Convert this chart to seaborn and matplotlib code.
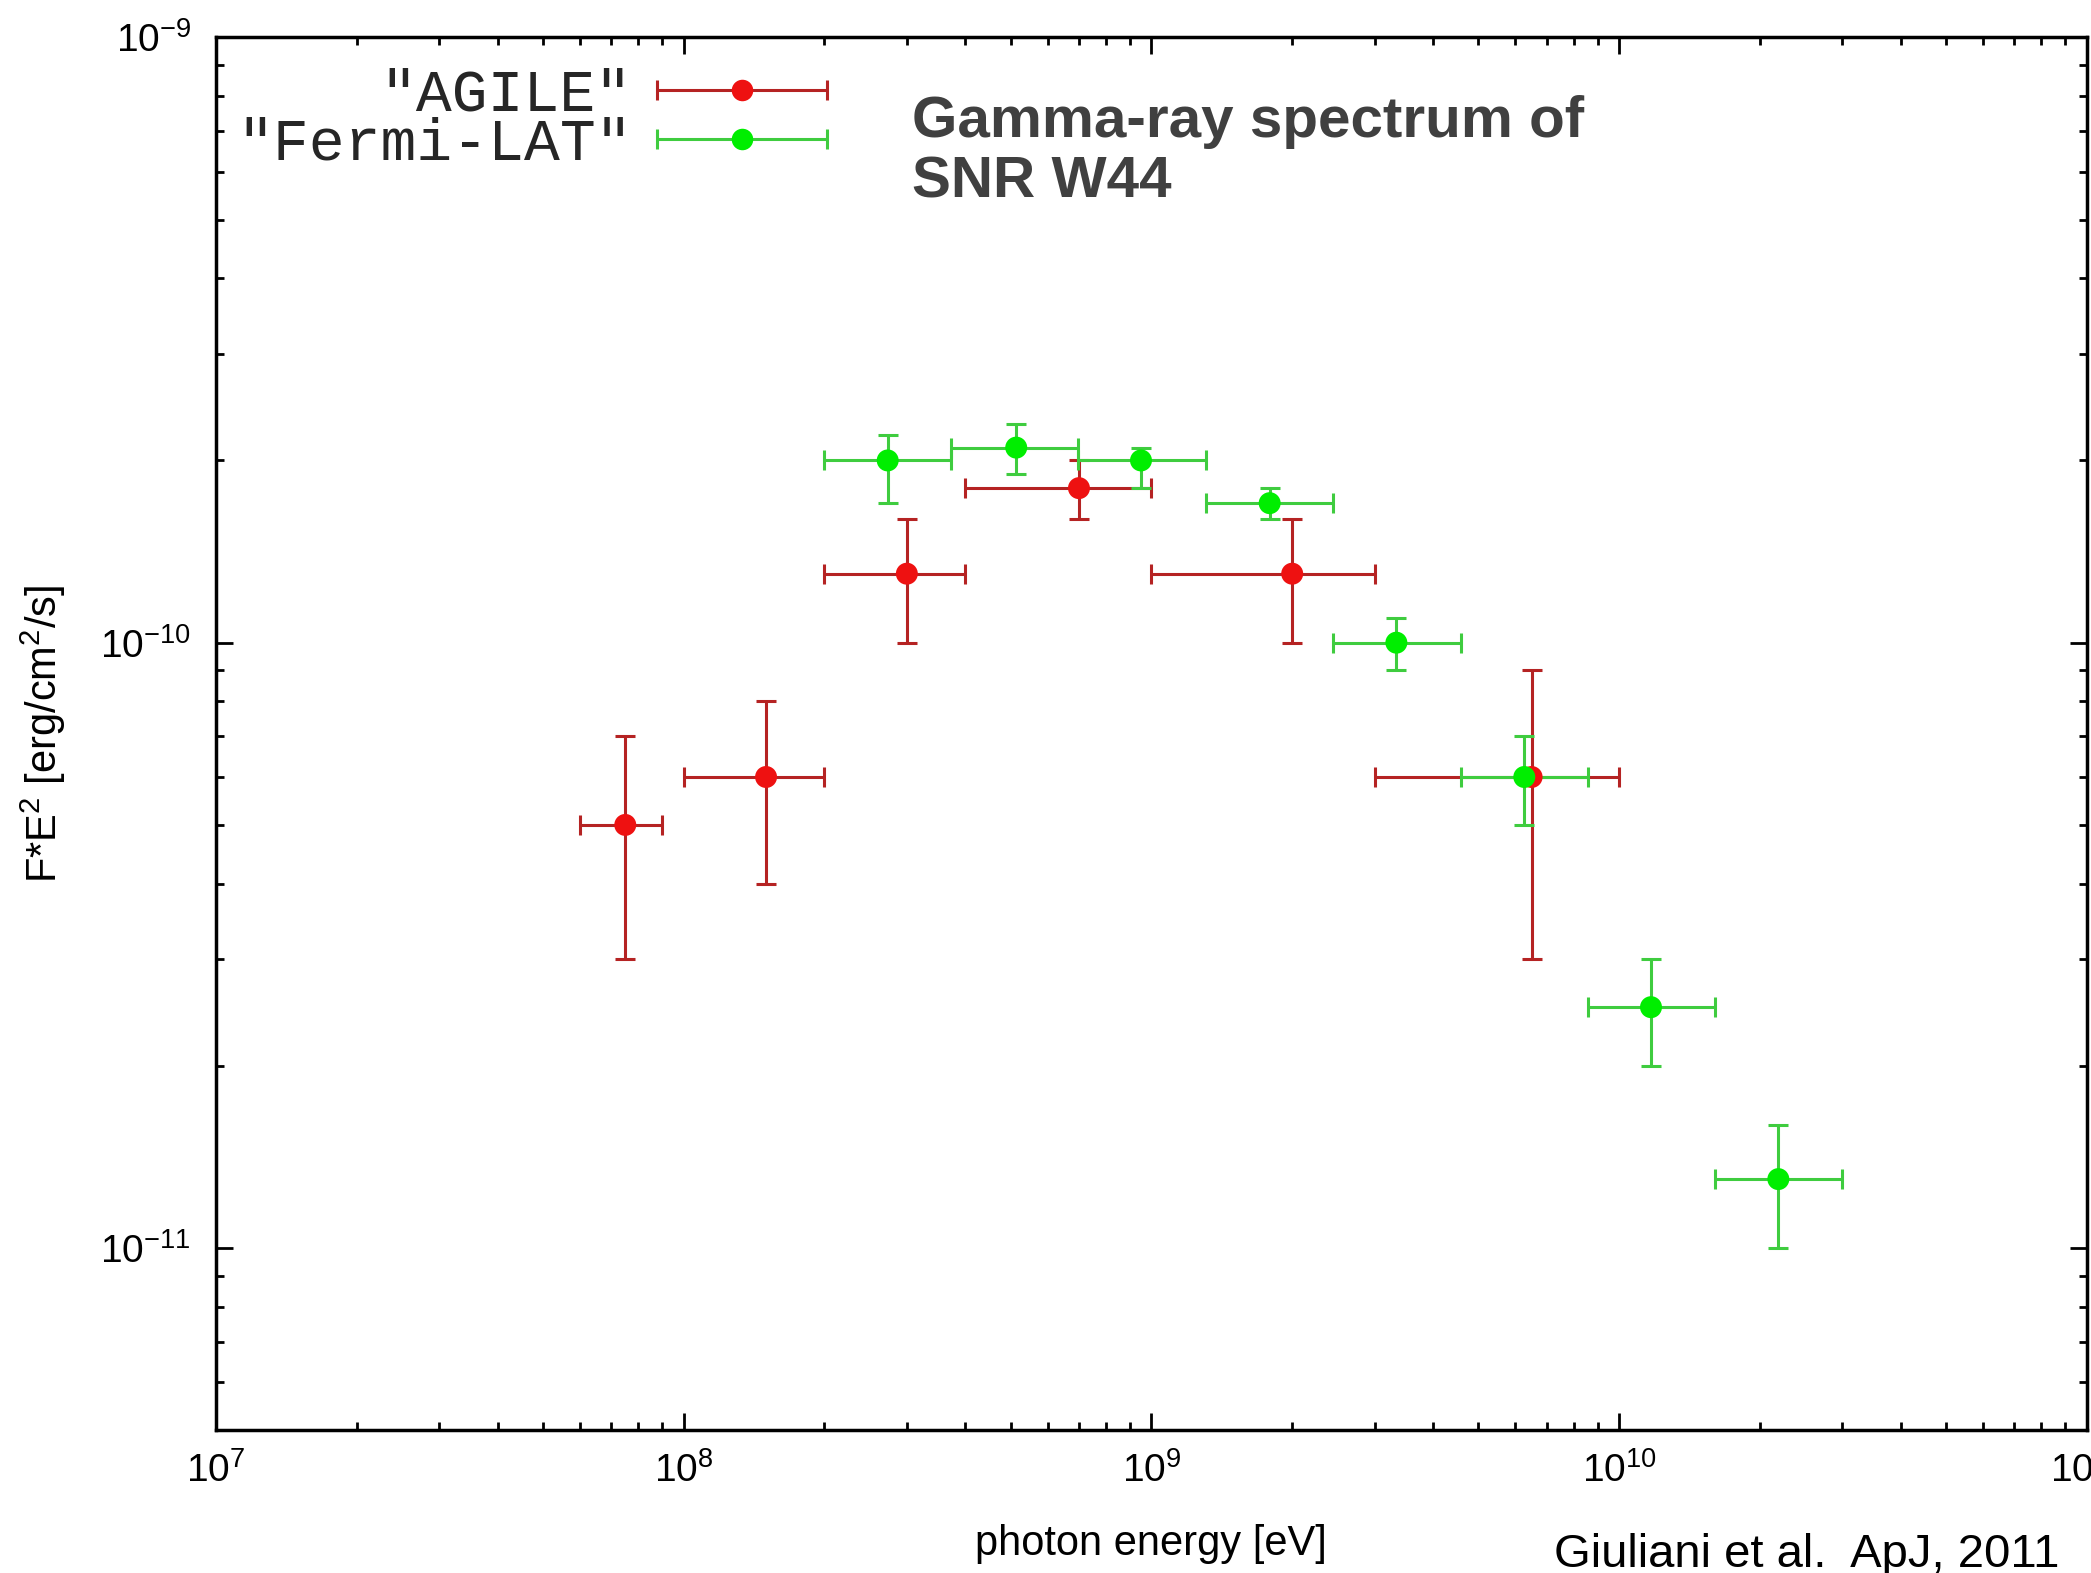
import matplotlib
matplotlib.use("Agg")
import matplotlib.pyplot as plt
import seaborn as sns
import numpy as np
import pandas as pd
from matplotlib.lines import Line2D
from matplotlib.collections import LineCollection
from matplotlib.container import ErrorbarContainer
from matplotlib.legend_handler import HandlerErrorbar
from matplotlib.ticker import LogLocator, NullFormatter

# AGILE points (energy in eV, E^2 F in erg/cm2/s)
agile_e = [7.5e7, 1.5e8, 3.0e8, 7.0e8, 2.0e9, 6.5e9]
agile_e_lo = [6.0e7, 1.0e8, 2.0e8, 4.0e8, 1.0e9, 3.0e9]
agile_e_hi = [9.0e7, 2.0e8, 4.0e8, 1.0e9, 3.0e9, 1.0e10]
agile_f = [5.0e-11, 6.0e-11, 1.3e-10, 1.8e-10, 1.3e-10, 6.0e-11]
agile_f_lo = [3.0e-11, 4.0e-11, 1.0e-10, 1.6e-10, 1.0e-10, 3.0e-11]
agile_f_hi = [7.0e-11, 8.0e-11, 1.6e-10, 2.0e-10, 1.6e-10, 9.0e-11]

# Fermi-LAT points
fermi_e = [2.73e8, 5.14e8, 9.5e8, 1.79e9, 3.34e9, 6.27e9, 1.17e10, 2.19e10]
fermi_e_lo = [2.0e8, 3.72e8, 6.95e8, 1.31e9, 2.45e9, 4.6e9, 8.6e9, 1.6e10]
fermi_e_hi = [3.72e8, 6.95e8, 1.31e9, 2.45e9, 4.6e9, 8.6e9, 1.6e10, 3.0e10]
fermi_f = [2.0e-10, 2.1e-10, 2.0e-10, 1.7e-10, 1.0e-10, 6.0e-11, 2.5e-11, 1.3e-11]
fermi_f_lo = [1.7e-10, 1.9e-10, 1.8e-10, 1.6e-10, 9.0e-11, 5.0e-11, 2.0e-11, 1.0e-11]
fermi_f_hi = [2.2e-10, 2.3e-10, 2.1e-10, 1.8e-10, 1.1e-10, 7.0e-11, 3.0e-11, 1.6e-11]

series_names = ['"AGILE"', '"Fermi-LAT"']
line_colors = ['#b52323', '#3fcc3f']
marker_colors = ['#ee1111', '#00ee00']

sns.set_theme(style="ticks")
plt.rcParams['font.family'] = ['Liberation Sans', 'DejaVu Sans']
plt.rcParams['mathtext.fontset'] = 'custom'
plt.rcParams['mathtext.rm'] = 'Liberation Sans'
plt.rcParams['mathtext.it'] = 'Liberation Sans:italic'
plt.rcParams['mathtext.bf'] = 'Liberation Sans:bold'
plt.rcParams['mathtext.default'] = 'regular'
plt.rcParams['axes.unicode_minus'] = False

fig = plt.figure(figsize=(20.91, 15.73), dpi=100)
ax = fig.add_axes([0.1033, 0.0907, 0.8947, 0.8856])

datasets = [
    (agile_e, agile_e_lo, agile_e_hi, agile_f, agile_f_lo, agile_f_hi),
    (fermi_e, fermi_e_lo, fermi_e_hi, fermi_f, fermi_f_lo, fermi_f_hi),
]

frames = []
for name, lc, (e, elo, ehi, f, flo, fhi) in zip(series_names, line_colors, datasets):
    e, elo, ehi = np.array(e), np.array(elo), np.array(ehi)
    f, flo, fhi = np.array(f), np.array(flo), np.array(fhi)
    ax.errorbar(e, f, xerr=[e - elo, ehi - e], yerr=[f - flo, fhi - f],
                fmt='none', ecolor=lc, elinewidth=2.2, capsize=7, capthick=2.2, zorder=2)
    frames.append(pd.DataFrame({'energy': e, 'flux': f, 'instrument': name}))

df = pd.concat(frames, ignore_index=True)
sns.scatterplot(data=df, x='energy', y='flux', hue='instrument',
                palette=dict(zip(series_names, marker_colors)),
                s=250, linewidth=0, legend=False, zorder=5, ax=ax)

ax.set_xscale('log')
ax.set_yscale('log')
ax.set_xlim(1e7, 1e11)
ax.set_ylim(5e-12, 1e-9)

for axis in (ax.xaxis, ax.yaxis):
    axis.set_major_locator(LogLocator(base=10, numticks=20))
    axis.set_minor_locator(LogLocator(base=10, subs=np.arange(2, 10), numticks=20))
    axis.set_minor_formatter(NullFormatter())

ax.tick_params(which='both', direction='in', top=True, right=True, color='black', width=2)
ax.tick_params(which='major', length=12, labelsize=28, colors='black')
ax.tick_params(which='minor', length=6)
ax.tick_params(axis='x', which='major', pad=16)
ax.tick_params(axis='y', which='major', pad=18)
for sp in ax.spines.values():
    sp.set_linewidth(2.5)
    sp.set_color('black')

ax.set_xlabel('photon energy [eV]', fontsize=30, color='black')
ax.set_ylabel('F*E$^2$ [erg/cm$^2$/s]', fontsize=30, color='black')
ax.xaxis.set_label_coords(0.5, -0.067)
ax.yaxis.set_label_coords(-0.079, 0.5)

# legend with horizontal error bar samples
handles = []
for name, lc, mc in zip(series_names, line_colors, marker_colors):
    pl = Line2D([], [], marker='o', ls='none', color=mc, markersize=15.5, markeredgewidth=0)
    cap = Line2D([], [], ls='none', color=lc, markersize=14, markeredgewidth=2.2)
    bar = LineCollection([], colors=lc, linewidths=2.2)
    handles.append(ErrorbarContainer((pl, (cap, cap), (bar,)), has_xerr=True,
                                     has_yerr=False, label=name))
ax.legend(handles=handles, labels=series_names, loc='upper right',
          bbox_to_anchor=(0.3266, 0.978), frameon=False, markerfirst=False,
          prop={'family': 'Liberation Mono', 'size': 43}, handlelength=2.85,
          handletextpad=0.42, labelspacing=-0.1, borderpad=0, borderaxespad=0,
          handler_map={ErrorbarContainer: HandlerErrorbar(xerr_size=1.42)})

ax.text(0.372, 0.885, 'Gamma-ray spectrum of\nSNR W44', transform=ax.transAxes,
        fontsize=42, fontweight='bold', color='#404040', ha='left', va='baseline',
        linespacing=1.15)

fig.text(0.985, 0.004, 'Giuliani et al.  ApJ, 2011', fontsize=34, color='black',
         ha='right', va='baseline')

fig.savefig('out.png', dpi=100)
